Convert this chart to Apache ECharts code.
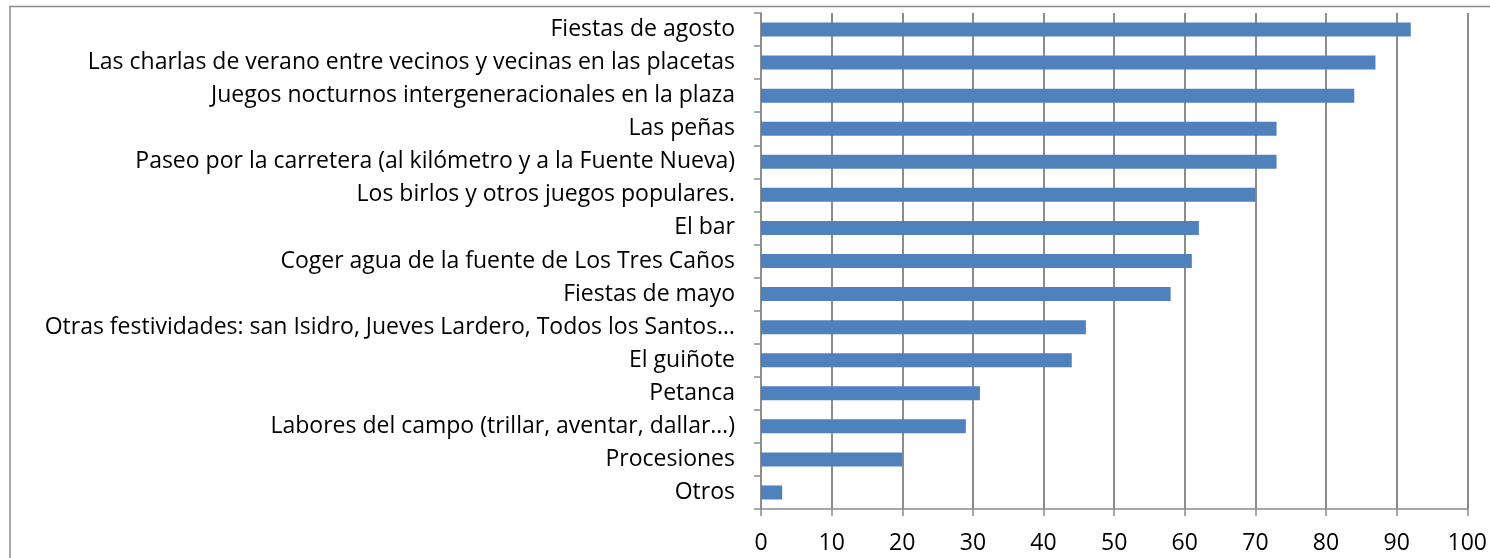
<!DOCTYPE html>
<html>
<head>
<meta charset="utf-8">
<script src="https://cdn.jsdelivr.net/npm/echarts@6.0.0/dist/echarts.min.js"></script>
<style>
  html, body { margin: 0; padding: 0; background: #fff; }
  #chart { width: 1490px; height: 558px; }
</style>
</head>
<body>
<div id="chart"></div>
<script>
// Actividades y valores (de arriba abajo)
const categories = [
  "Fiestas de agosto",
  "Las charlas de verano entre vecinos y vecinas en las placetas",
  "Juegos nocturnos intergeneracionales en la plaza",
  "Las peñas",
  "Paseo por la carretera (al kilómetro y a la Fuente Nueva)",
  "Los birlos y otros juegos populares.",
  "El bar",
  "Coger agua de la fuente de Los Tres Caños",
  "Fiestas de mayo",
  "Otras festividades: san Isidro, Jueves Lardero, Todos los Santos…",
  "El guiñote",
  "Petanca",
  "Labores del campo (trillar, aventar, dallar…)",
  "Procesiones",
  "Otros"
];
const values = [92, 87, 84, 73, 73, 70, 62, 61, 58, 46, 44, 31, 29, 20, 3];

const chart = echarts.init(document.getElementById("chart"), null, { renderer: "canvas" });

const axisGray = "#8c8c8c";
const font = "'Open Sans', 'Noto Sans', sans-serif";

chart.setOption({
  animation: false,
  backgroundColor: "#fff",
  graphic: [
    {
      // marco exterior del gráfico
      type: "rect",
      shape: { x: 10, y: 6.5, width: 1600, height: 700 },
      style: { fill: "none", stroke: axisGray, lineWidth: 1.5 },
      silent: true
    }
  ],
  grid: { left: 761, right: 17, top: 13, bottom: 49, containLabel: false },
  xAxis: {
    type: "value",
    min: 0,
    max: 100,
    interval: 10,
    axisLine: { show: true, lineStyle: { color: axisGray, width: 1.5 } },
    axisTick: { show: true, length: 7, lineStyle: { color: axisGray, width: 1.5 } },
    axisLabel: { color: "#000", fontSize: 23, fontFamily: font, margin: 23 },
    splitLine: { show: true, lineStyle: { color: axisGray, width: 2 } }
  },
  yAxis: {
    type: "category",
    data: categories,
    inverse: true,
    axisLine: { show: true, lineStyle: { color: axisGray, width: 1.5 } },
    axisTick: { show: true, length: 7, lineStyle: { color: axisGray, width: 1.5 } },
    axisLabel: { color: "#000", fontSize: 23, fontFamily: font, margin: 26 },
    splitLine: { show: false }
  },
  series: [
    {
      type: "bar",
      data: values,
      barWidth: 14,
      itemStyle: { color: "#4f81bd" }
    }
  ]
});
</script>
</body>
</html>
